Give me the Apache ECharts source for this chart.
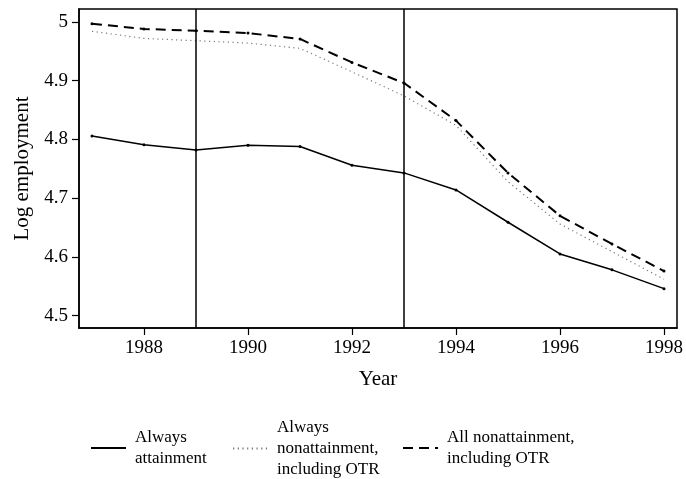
<!DOCTYPE html>
<html>
<head>
<meta charset="utf-8">
<script src="https://cdn.jsdelivr.net/npm/echarts@6/dist/echarts.min.js"></script>
<style>
  html, body { margin: 0; padding: 0; background: #fff; }
  #chart { width: 686px; height: 479px; }
</style>
</head>
<body>
<div id="chart"></div>
<script>
const years = [1987, 1988, 1989, 1990, 1991, 1992, 1993, 1994, 1995, 1996, 1997, 1998]
const alwaysAttainment = [4.806, 4.791, 4.782, 4.790, 4.788, 4.756, 4.743, 4.714, 4.659, 4.605, 4.578, 4.546]
const alwaysNonattainment = [4.984, 4.972, 4.968, 4.964, 4.955, 4.915, 4.874, 4.824, 4.728, 4.656, 4.609, 4.562]
const allNonattainment = [4.997, 4.988, 4.985, 4.981, 4.971, 4.931, 4.896, 4.832, 4.743, 4.670, 4.622, 4.576]
const xTicks = [1988, 1990, 1992, 1994, 1996, 1998]
const yTicks = [4.5, 4.6, 4.7, 4.8, 4.9, 5]
const yTickLabels = ['4.5', '4.6', '4.7', '4.8', '4.9', '5']
const policyYears = [1989, 1993]

const names = [
  'Always\nattainment',
  'Always\nnonattainment,\nincluding OTR',
  'All nonattainment,\nincluding OTR'
]

const font = 'Liberation Serif'

function pairs(vals) {
  return years.map((y, i) => [y, vals[i]])
}

function legendFor(name, left, top) {
  return {
    data: [name],
    left: left,
    top: top,
    padding: 0,
    orient: 'horizontal',
    itemWidth: 35,
    itemHeight: 14,
    itemStyle: { opacity: 0 },
    selectedMode: false,
    textStyle: {
      fontFamily: font,
      fontSize: 17,
      lineHeight: 21,
      color: '#000',
      padding: [0, 0, 0, 4]
    }
  }
}

const chart = echarts.init(document.getElementById('chart'))

chart.setOption({
  animation: false,
  backgroundColor: '#fff',
  grid: {
    left: 79,
    right: 9,
    top: 9,
    bottom: 151,
    show: true,
    borderColor: '#000',
    borderWidth: 1.5
  },
  legend: [
    legendFor(names[0], 90, 427),
    legendFor(names[1], 232, 417),
    legendFor(names[2], 402, 427)
  ],
  xAxis: {
    type: 'value',
    min: 1986.75,
    max: 1998.25,
    name: 'Year',
    nameLocation: 'middle',
    nameGap: 41,
    nameTextStyle: { fontFamily: font, fontSize: 21, color: '#000' },
    axisLine: { show: true, lineStyle: { color: '#000', width: 1.5 } },
    axisTick: { show: true, length: 7, customValues: xTicks, lineStyle: { color: '#000', width: 1.2 } },
    axisLabel: {
      customValues: xTicks,
      margin: 11,
      fontFamily: font,
      fontSize: 19,
      color: '#000',
      formatter: v => String(v)
    },
    splitLine: { show: false }
  },
  yAxis: {
    type: 'value',
    min: 4.479,
    max: 5.022,
    name: 'Log employment',
    nameLocation: 'middle',
    nameGap: 46,
    nameTextStyle: { fontFamily: font, fontSize: 21, color: '#000' },
    axisLine: { show: true, lineStyle: { color: '#000', width: 1.5 } },
    axisTick: { show: true, length: 7, customValues: yTicks, lineStyle: { color: '#000', width: 1.2 } },
    axisLabel: {
      customValues: yTicks,
      margin: 11,
      fontFamily: font,
      fontSize: 19,
      color: '#000',
      formatter: v => yTickLabels[yTicks.findIndex(t => Math.abs(t - v) < 1e-6)] || ''
    },
    splitLine: { show: false }
  },
  series: [
    {
      name: names[0],
      type: 'line',
      data: pairs(alwaysAttainment),
      symbol: 'circle',
      symbolSize: 3,
      itemStyle: { color: '#000' },
      lineStyle: { color: '#000', width: 1.5, type: 'solid' },
      markLine: {
        silent: true,
        symbol: ['none', 'none'],
        label: { show: false },
        lineStyle: { color: '#000', width: 1.5, type: 'solid' },
        data: policyYears.map(y => ({ xAxis: y }))
      }
    },
    {
      name: names[1],
      type: 'line',
      data: pairs(alwaysNonattainment),
      symbol: 'none',
      itemStyle: { color: '#777' },
      lineStyle: { color: '#777', width: 1.2, type: [1.2, 3.5] }
    },
    {
      name: names[2],
      type: 'line',
      data: pairs(allNonattainment),
      symbol: 'circle',
      symbolSize: 3,
      itemStyle: { color: '#000' },
      lineStyle: { color: '#000', width: 2, type: [10, 6] }
    }
  ]
})
</script>
</body>
</html>
